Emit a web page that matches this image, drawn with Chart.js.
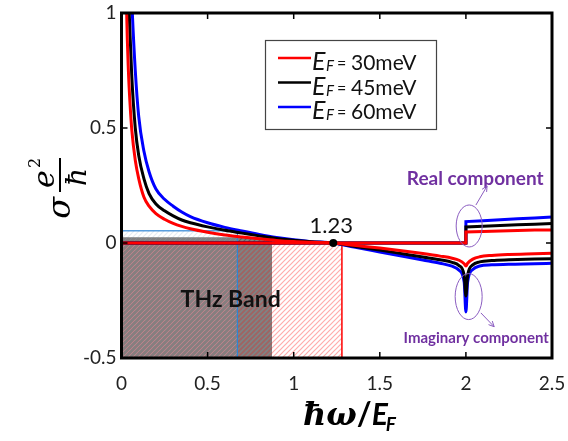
<!DOCTYPE html>
<html>
<head>
<meta charset="utf-8">
<script src="https://cdn.jsdelivr.net/npm/chart.js@4.4.0/dist/chart.umd.min.js"></script>
<style>
  html, body { margin: 0; padding: 0; background: #fff; }
</style>
</head>
<body>
<canvas id="chart" width="568" height="441"></canvas>
<script>
// imaginary part, sampled along hbar*omega/E_F
const imagX     = [0.02, 0.03, 0.04, 0.05, 0.06, 0.08, 0.1, 0.13, 0.16, 0.2, 0.25, 0.3, 0.35, 0.4, 0.5, 0.6, 0.7, 0.8, 0.9, 1.0, 1.1, 1.23, 1.35, 1.5, 1.65, 1.75, 1.85, 1.92, 1.96, 1.99, 2.0, 2.01, 2.04, 2.08, 2.15, 2.25, 2.4, 2.5]
const imag30    = [1.5, 1.0, 0.75, 0.6, 0.49, 0.36, 0.28, 0.2, 0.16, 0.128, 0.103, 0.085, 0.072, 0.062, 0.047, 0.035, 0.026, 0.018, 0.011, 0.006, 0.003, 0, -0.01, -0.022, -0.036, -0.046, -0.057, -0.066, -0.075, -0.09, -0.1, -0.088, -0.07, -0.06, -0.054, -0.05, -0.047, -0.045]
const imag45    = [2.2, 1.5, 1.12, 0.9, 0.72, 0.5, 0.38, 0.28, 0.215, 0.17, 0.14, 0.118, 0.1, 0.088, 0.07, 0.055, 0.043, 0.031, 0.02, 0.012, 0.005, 0, -0.014, -0.031, -0.049, -0.061, -0.073, -0.084, -0.098, -0.14, -0.23, -0.14, -0.095, -0.082, -0.076, -0.073, -0.07, -0.068]
const imag60    = [3.0, 2.1, 1.58, 1.26, 1.05, 0.75, 0.55, 0.4, 0.31, 0.235, 0.19, 0.16, 0.135, 0.115, 0.088, 0.068, 0.052, 0.037, 0.024, 0.014, 0.006, 0, -0.018, -0.039, -0.06, -0.074, -0.088, -0.101, -0.118, -0.17, -0.3, -0.17, -0.115, -0.1, -0.095, -0.092, -0.09, -0.088]

// real part: zero below the interband threshold, step at 2
const realX  = [0, 2, 2, 2.1, 2.2, 2.3, 2.4, 2.5]
const real30 = [0, 0, 0.048, 0.05, 0.052, 0.054, 0.056, 0.057]
const real45 = [0, 0, 0.07, 0.073, 0.076, 0.079, 0.082, 0.085]
const real60 = [0, 0, 0.093, 0.097, 0.101, 0.105, 0.109, 0.113]

const fermiLabels = ['30meV', '45meV', '60meV']
const xTickValues = [0, 0.5, 1, 1.5, 2, 2.5]
const yTickValues = [-0.5, 0, 0.5, 1]

// THz band rectangles (30, 45, 60 meV)
const bandRight  = [1.28, 0.874, 0.673]
const bandTop    = [0, 0.025, 0.053]
const bandBottom = -0.5

const crossing = [1.23, 0]

const pts = (xs, ys) => xs.map((x, i) => ({x: x, y: ys[i]}))

function hatch(ctx, color, gap) {
  const c = document.createElement('canvas')
  c.width = c.height = gap
  const g = c.getContext('2d')
  g.strokeStyle = color
  g.lineWidth = 1.2
  g.beginPath()
  g.moveTo(0, gap); g.lineTo(gap, 0)
  g.moveTo(-gap / 2, gap / 2); g.lineTo(gap / 2, -gap / 2)
  g.moveTo(gap / 2, gap * 1.5); g.lineTo(gap * 1.5, gap / 2)
  g.stroke()
  return ctx.createPattern(c, 'repeat')
}

const purple = '#7030a0'

const decor = {
  id: 'decor',
  beforeDatasetsDraw(chart) {
    const {ctx, scales: {x, y}} = chart
    const rect = i => [x.getPixelForValue(0), y.getPixelForValue(bandTop[i]),
      x.getPixelForValue(bandRight[i]) - x.getPixelForValue(0),
      y.getPixelForValue(bandBottom) - y.getPixelForValue(bandTop[i])]
    ctx.save()
    ctx.fillStyle = 'rgba(72,68,68,0.68)'
    ctx.fillRect(...rect(1))
    ctx.fillStyle = hatch(ctx, 'rgba(30,30,30,0.35)', 5)
    ctx.fillRect(...rect(1))
    ctx.fillStyle = hatch(ctx, 'rgba(255,90,90,0.5)', 5)
    ctx.fillRect(...rect(0))
    ctx.fillStyle = hatch(ctx, 'rgba(190,205,225,0.4)', 5)
    ctx.fillRect(...rect(2))
    ctx.lineWidth = 1.5
    ctx.strokeStyle = '#ff0000'
    ctx.strokeRect(...rect(0))
    ctx.lineWidth = 1.2
    ctx.strokeStyle = '#2f86d6'
    ctx.strokeRect(...rect(2))
    ctx.restore()
  },
  afterDatasetsDraw(chart) {
    const {ctx, chartArea: a, scales: {x, y}} = chart
    ctx.save()
    ctx.strokeStyle = '#000'
    ctx.lineWidth = 3
    ctx.strokeRect(a.left, a.top, a.right - a.left, a.bottom - a.top)
    ctx.lineWidth = 1.5
    ctx.beginPath()
    x.ticks.forEach(t => {
      const p = x.getPixelForValue(t.value)
      ctx.moveTo(p, a.bottom); ctx.lineTo(p, a.bottom - 6)
      ctx.moveTo(p, a.top); ctx.lineTo(p, a.top + 6)
    })
    y.ticks.forEach(t => {
      const p = y.getPixelForValue(t.value)
      ctx.moveTo(a.left, p); ctx.lineTo(a.left + 6, p)
      ctx.moveTo(a.right, p); ctx.lineTo(a.right - 6, p)
    })
    ctx.stroke()
    ctx.restore()
  },
  afterDraw(chart) {
    const {ctx, scales: {x, y}} = chart
    const X = v => x.getPixelForValue(v), Y = v => y.getPixelForValue(v)
    ctx.save()
    ctx.textBaseline = 'alphabetic'

    // crossing label
    ctx.fillStyle = '#111'
    ctx.font = '22px Lato'
    ctx.textAlign = 'center'
    ctx.fillText('1.23', X(crossing[0]) - 2, Y(crossing[1]) - 10)

    ctx.font = 'bold 23px Lato'
    ctx.fillText('THz Band', X(0.634), Y(-0.243) + 8)

    // component annotations
    ctx.fillStyle = purple
    ctx.font = 'bold 19px Lato'
    ctx.fillText('Real component', X(2.054), Y(0.283) + 7)
    ctx.font = 'bold 15px Lato'
    ctx.fillText('Imaginary component', X(2.06), Y(-0.409) + 6)

    ctx.strokeStyle = '#8a5cc0'
    ctx.lineWidth = 1
    ctx.beginPath()
    ctx.ellipse(X(2.019), Y(0.074), 13, 21, 0, 0, Math.PI * 2)
    ctx.stroke()
    ctx.beginPath()
    ctx.ellipse(X(2.016), Y(-0.233), 13.5, 23, 0, 0, Math.PI * 2)
    ctx.stroke()
    const arrow = (x1, y1, x2, y2) => {
      const ang = Math.atan2(y2 - y1, x2 - x1)
      ctx.beginPath()
      ctx.moveTo(x1, y1); ctx.lineTo(x2, y2)
      ctx.moveTo(x2 - 6 * Math.cos(ang - 0.45), y2 - 6 * Math.sin(ang - 0.45))
      ctx.lineTo(x2, y2)
      ctx.lineTo(x2 - 6 * Math.cos(ang + 0.45), y2 - 6 * Math.sin(ang + 0.45))
      ctx.stroke()
    }
    arrow(X(2.058), Y(0.165), X(2.123), Y(0.248))
    arrow(X(2.087), Y(-0.304), X(2.164), Y(-0.364))

    // legend
    const colors = ['#ff0000', '#000000', '#0000ff']
    ctx.strokeStyle = '#444'
    ctx.lineWidth = 1.2
    ctx.strokeRect(265.5, 40.5, 171, 89)
    fermiLabels.forEach((lab, i) => {
      const yy = 62 + i * 24.5
      ctx.strokeStyle = colors[i]
      ctx.lineWidth = 2.5
      ctx.beginPath(); ctx.moveTo(278, yy - 4); ctx.lineTo(311, yy - 4); ctx.stroke()
      ctx.fillStyle = '#111'
      ctx.textAlign = 'left'
      ctx.font = 'italic 25px Lato'
      ctx.fillText('E', 312, yy + 8)
      ctx.font = 'italic 15px Lato'
      ctx.fillText('F', 326, yy + 9)
      ctx.font = '16px Lato'
      ctx.fillText('=', 337, yy + 7)
      ctx.font = '21px Lato'
      ctx.fillText(lab, 351, yy + 8)
    })

    // x axis title
    let cx = 303
    const base = 425
    ctx.fillStyle = '#000'
    ctx.font = 'bold italic 32px "DejaVu Serif"'
    ctx.fillText('ħω', cx, base); cx += ctx.measureText('ħω').width
    ctx.font = 'bold 32px Lato'
    ctx.fillText('/', cx, base); cx += ctx.measureText('/').width
    ctx.font = 'bold italic 30px Lato'
    ctx.fillText('E', cx, base); cx += ctx.measureText('E').width - 2
    ctx.font = 'bold italic 19px Lato'
    ctx.fillText('F', cx, base + 6)

    // y axis title
    ctx.translate(60, 195)
    ctx.rotate(-Math.PI / 2)
    ctx.font = 'italic 32px "DejaVu Serif"'
    ctx.textAlign = 'right'
    ctx.fillText('σ', -2, 10)
    ctx.lineWidth = 2
    ctx.strokeStyle = '#000'
    ctx.beginPath(); ctx.moveTo(3, 0); ctx.lineTo(37, 0); ctx.stroke()
    ctx.textAlign = 'left'
    ctx.font = 'italic 30px "DejaVu Serif"'
    ctx.fillText('e', 7, -6)
    ctx.font = '16px "DejaVu Serif"'
    ctx.fillText('2', 27, -20)
    ctx.font = 'italic 28px "DejaVu Serif"'
    ctx.fillText('ħ', 9, 26)
    ctx.restore()
  }
}

const line = (data, color, smooth) => ({
  data: data, borderColor: color, backgroundColor: color, borderWidth: 3,
  pointRadius: 0, showLine: true, fill: false,
  cubicInterpolationMode: smooth ? 'monotone' : 'default', tension: 0
})

const plain = v => String(v)

new Chart(document.getElementById('chart'), {
  type: 'line',
  data: {
    datasets: [
      {data: [{x: crossing[0], y: crossing[1]}], showLine: false, pointRadius: 4, pointBackgroundColor: '#000', pointBorderWidth: 0},
      line(pts(realX, real30), '#ff0000', false),
      line(pts(imagX, imag30), '#ff0000', true),
      line(pts(realX, real45), '#000000', false),
      line(pts(imagX, imag45), '#000000', true),
      line(pts(realX, real60), '#0000ff', false),
      line(pts(imagX, imag60), '#0000ff', true)
    ]
  },
  options: {
    responsive: false,
    animation: false,
    layout: {padding: {top: 13, right: 16, left: 0, bottom: 0}},
    plugins: {legend: {display: false}, tooltip: {enabled: false}},
    scales: {
      x: {
        type: 'linear', min: 0, max: 2.5,
        grid: {display: false, drawTicks: false}, border: {display: false},
        afterBuildTicks: axis => { axis.ticks = xTickValues.map(v => ({value: v})) },
        afterFit: axis => { axis.height = 83; axis.paddingLeft = 0; axis.paddingRight = 0 },
        ticks: {color: '#222', font: {family: 'Lato', size: 19}, padding: 14, maxRotation: 0, autoSkip: false, callback: plain}
      },
      y: {
        type: 'linear', min: -0.5, max: 1,
        grid: {display: false, drawTicks: false}, border: {display: false},
        afterBuildTicks: axis => { axis.ticks = yTickValues.map(v => ({value: v})) },
        afterFit: axis => { axis.width = 121.5; axis.paddingTop = 0; axis.paddingBottom = 0 },
        ticks: {color: '#222', font: {family: 'Lato', size: 19}, padding: 5, autoSkip: false, callback: plain}
      }
    }
  },
  plugins: [decor]
})
</script>
</body>
</html>
